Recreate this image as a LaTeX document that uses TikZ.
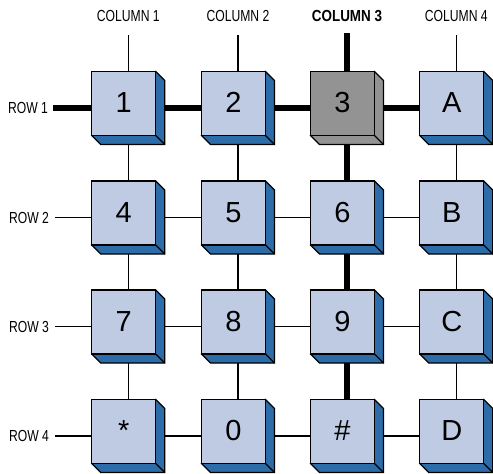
\documentclass[tikz,border=0pt]{standalone}
\usepackage{fontspec}
\setmainfont{Liberation Sans}
\newfontfamily\narrowfont[FakeStretch=0.76]{Liberation Sans}
\newfontfamily\narrowboldfont[FakeStretch=0.84]{Liberation Sans Bold}
\definecolor{keyface}{HTML}{BFCAE3}
\definecolor{keyside}{HTML}{2B6CA9}
\definecolor{keygray}{HTML}{939393}
\begin{document}
\begin{tikzpicture}[
        x=1pt,
        y=-1pt,
        keybox/.style 2 args={
        rectangle,
        minimum size=73pt,
        inner sep=0pt,
        outer sep=0pt,
        append after command={\pgfextra{
          \draw[line width=1.2pt, fill=#2]
            ([shift={(64,0)}]\tikzlastnode.north west) -- ([shift={(73,9)}]\tikzlastnode.north west)
            -- (\tikzlastnode.south east) -- ([shift={(9,73)}]\tikzlastnode.north west)
            -- ([shift={(0,64)}]\tikzlastnode.north west) -- cycle;
          \draw[line width=1.2pt] ([shift={(64,64)}]\tikzlastnode.north west) -- (\tikzlastnode.south east);
          \draw[line width=1.2pt, fill=#1] (\tikzlastnode.north west) rectangle ([shift={(64,64)}]\tikzlastnode.north west);
        }}
      },
      bluekey/.style={keybox={keyface}{keyside}},
      graykey/.style={keybox={keygray}{keygray}},
      keytext/.style={xshift=-4.5pt, yshift=5.8pt, inner sep=0pt, text height=20.8pt, text depth=0pt, font=\fontsize{29}{29}\selectfont},
      linename/.style={font=\narrowfont\fontsize{16}{16}\selectfont},
      boldname/.style={font=\narrowboldfont\fontsize{16}{16}\selectfont},
      wire/.style={line width=1.2pt},
      busy/.style={line width=6pt}
    ]
    \useasboundingbox (0, 0) rectangle (493, 474);

    \node[bluekey, label={[keytext]center:1}] (k1) at (128.3, 108) {};
    \node[bluekey, label={[keytext]center:2}] (k2) at (238, 108) {};
    \node[graykey, label={[keytext]center:3}] (k3) at (347, 108) {};
    \node[bluekey, label={[keytext]center:A}] (kA) at (456.3, 108) {};

    \node[bluekey, label={[keytext]center:4}] (k4) at (128.3, 217.5) {};
    \node[bluekey, label={[keytext]center:5}] (k5) at (238, 217.5) {};
    \node[bluekey, label={[keytext]center:6}] (k6) at (347, 217.5) {};
    \node[bluekey, label={[keytext]center:B}] (kB) at (456.3, 217.5) {};

    \node[bluekey, label={[keytext]center:7}] (k7) at (128.3, 326.5) {};
    \node[bluekey, label={[keytext]center:8}] (k8) at (238, 326.5) {};
    \node[bluekey, label={[keytext]center:9}] (k9) at (347, 326.5) {};
    \node[bluekey, label={[keytext]center:C}] (kC) at (456.3, 326.5) {};

    \node[bluekey, label={[keytext]center:*}] (kstar) at (128.3, 436) {};
    \node[bluekey, label={[keytext]center:0}] (k0) at (238, 436) {};
    \node[bluekey, label={[keytext]center:\#}] (khash) at (347, 436) {};
    \node[bluekey, label={[keytext]center:D}] (kD) at (456.3, 436) {};

    \node[linename] (col1) at (128.3, 16) {COLUMN 1};
    \node[linename] (col2) at (238, 16) {COLUMN 2};
    \node[boldname] (col3) at (347, 16) {COLUMN 3};
    \node[linename] (col4) at (456.3, 16) {COLUMN 4};

    \node[linename] (row1) at (28, 108) {ROW 1};
    \node[linename] (row2) at (29, 217.5) {ROW 2};
    \node[linename] (row3) at (29, 326.5) {ROW 3};
    \node[linename] (row4) at (29, 436) {ROW 4};

    \coordinate (c1) at (128.3, 35);
    \coordinate (c2) at (238, 35);
    \coordinate (c3) at (347, 33);
    \coordinate (c4) at (456.3, 35);

    \coordinate (r1) at (53, 108);
    \coordinate (r2) at (55, 217.5);
    \coordinate (r3) at (55, 326.5);
    \coordinate (r4) at (55, 436);

    \draw[busy] (r1) -- (k1);
    \draw[busy] (k1) -- (k2);
    \draw[busy] (k2) -- (k3);
    \draw[busy] (k3) -- (kA);

    \draw[wire] (r2) -- (k4);
    \draw[wire] (k4) -- (k5);
    \draw[wire] (k5) -- (k6);
    \draw[wire] (k6) -- (kB);

    \draw[wire] (r3) -- (k7);
    \draw[wire] (k7) -- (k8);
    \draw[wire] (k8) -- (k9);
    \draw[wire] (k9) -- (kC);

    \draw[wire] (r4) -- (kstar);
    \draw[wire] (kstar) -- (k0);
    \draw[wire] (k0) -- (khash);
    \draw[wire] (khash) -- (kD);

    \draw[wire] (c1) -- (k1);
    \draw[wire] (k1) -- (k4);
    \draw[wire] (k4) -- (k7);
    \draw[wire] (k7) -- (kstar);

    \draw[wire] (c2) -- (k2);
    \draw[wire] (k2) -- (k5);
    \draw[wire] (k5) -- (k8);
    \draw[wire] (k8) -- (k0);

    \draw[busy] (c3) -- (k3);
    \draw[busy] (k3) -- (k6);
    \draw[busy] (k6) -- (k9);
    \draw[busy] (k9) -- (khash);

    \draw[wire] (c4) -- (kA);
    \draw[wire] (kA) -- (kB);
    \draw[wire] (kB) -- (kC);
    \draw[wire] (kC) -- (kD);

\end{tikzpicture}
\end{document}
